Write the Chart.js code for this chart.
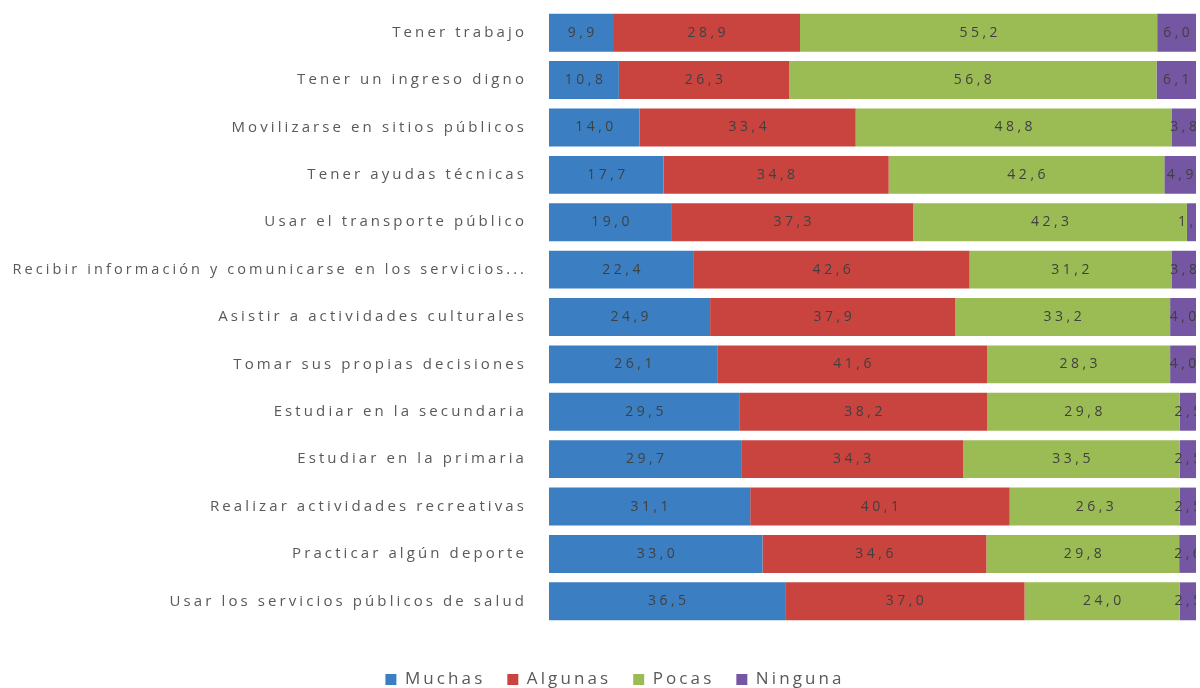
<!DOCTYPE html>
<html>
<head>
<meta charset="utf-8">
<script src="https://cdn.jsdelivr.net/npm/chart.js@4/dist/chart.umd.min.js"></script>
<style>
  html, body { margin: 0; padding: 0; background: #ffffff; }
  #wrap { width: 1200px; height: 688px; }
</style>
</head>
<body>
<div id="wrap"><canvas id="barChart" width="1200" height="688"></canvas></div>
<script>
// Categories, top to bottom
const categories = [
    'Tener trabajo',
    'Tener un ingreso digno',
    'Movilizarse en sitios públicos',
    'Tener ayudas técnicas',
    'Usar el transporte público',
    'Recibir información y comunicarse en los servicios...',
    'Asistir a actividades culturales',
    'Tomar sus propias decisiones',
    'Estudiar en la secundaria',
    'Estudiar en la primaria',
    'Realizar actividades recreativas',
    'Practicar algún deporte',
    'Usar los servicios públicos de salud'
];

// Percentages per answer
const muchas  = [9.9, 10.8, 14.0, 17.7, 19.0, 22.4, 24.9, 26.1, 29.5, 29.7, 31.1, 33.0, 36.5];
const algunas = [28.9, 26.3, 33.4, 34.8, 37.3, 42.6, 37.9, 41.6, 38.2, 34.3, 40.1, 34.6, 37.0];
const pocas   = [55.2, 56.8, 48.8, 42.6, 42.3, 31.2, 33.2, 28.3, 29.8, 33.5, 26.3, 29.8, 24.0];
const ninguna = [6.0, 6.1, 3.8, 4.9, 1.4, 3.8, 4.0, 4.0, 2.5, 2.5, 2.5, 2.6, 2.5];

const seriesNames = ['Muchas', 'Algunas', 'Pocas', 'Ninguna'];
const seriesColors = ['#3b7fc2', '#c9443e', '#9bbb55', '#7456a2'];

// The text in the picture is widely spaced
const spacing = {
    id: 'spacing',
    beforeUpdate(chart) { chart.ctx.letterSpacing = '3.1px'; },
    beforeDraw(chart) { chart.ctx.letterSpacing = '3.1px'; },
    // let the long category label run to the left edge instead of being clipped
    afterLayout(chart) { chart.scales.y.left = 0; }
};

// Draws the value in the middle of each bar segment
const valueLabels = {
    id: 'valueLabels',
    afterDatasetsDraw(chart) {
        const ctx = chart.ctx;
        const area = chart.chartArea;
        ctx.save();
        ctx.beginPath();
        ctx.rect(area.left, area.top, area.right - area.left, area.bottom - area.top);
        ctx.clip();
        ctx.letterSpacing = '3.5px';
        ctx.font = '14px "Open Sans", sans-serif';
        ctx.fillStyle = '#404040';
        ctx.textAlign = 'center';
        ctx.textBaseline = 'middle';
        chart.data.datasets.forEach((ds, i) => {
            chart.getDatasetMeta(i).data.forEach((bar, j) => {
                const p = bar.getProps(['x', 'y', 'base'], true);
                const cx = (p.x + p.base) / 2 + 1.7;
                ctx.fillText(ds.data[j].toFixed(1).replace('.', ','), cx, p.y);
            });
        });
        ctx.restore();
    }
};

const ctx = document.getElementById('barChart').getContext('2d');
new Chart(ctx, {
    type: 'bar',
    data: {
        labels: categories,
        datasets: [muchas, algunas, pocas, ninguna].map((vals, i) => ({
            label: seriesNames[i],
            data: vals,
            backgroundColor: seriesColors[i],
            borderWidth: 0,
            categoryPercentage: 1,
            barPercentage: 0.8
        }))
    },
    options: {
        indexAxis: 'y',
        responsive: false,
        animation: false,
        layout: { padding: { left: 34, right: 4, top: 8, bottom: -10 } },
        scales: {
            x: {
                stacked: true,
                min: 0,
                max: 100,
                display: false
            },
            y: {
                stacked: true,
                grid: { display: false, drawTicks: true, tickLength: 22 },
                border: { display: false },
                ticks: {
                    color: '#595959',
                    // the long label is a little tighter in the picture
                    font: (c) => ({ family: '"Open Sans", sans-serif', size: c.index === 5 ? 14.5 : 15 }),
                    padding: 0
                },
                afterFit(scale) { scale.width = 515; }
            }
        },
        plugins: {
            legend: {
                position: 'bottom',
                title: { display: true, text: '', padding: 0, font: { size: 20 } },
                labels: {
                    color: '#595959',
                    font: { family: '"Open Sans", sans-serif', size: 17 },
                    boxWidth: 11,
                    boxHeight: 11,
                    padding: 22
                }
            },
            tooltip: { enabled: false }
        }
    },
    plugins: [spacing, valueLabels]
});
</script>
</body>
</html>
